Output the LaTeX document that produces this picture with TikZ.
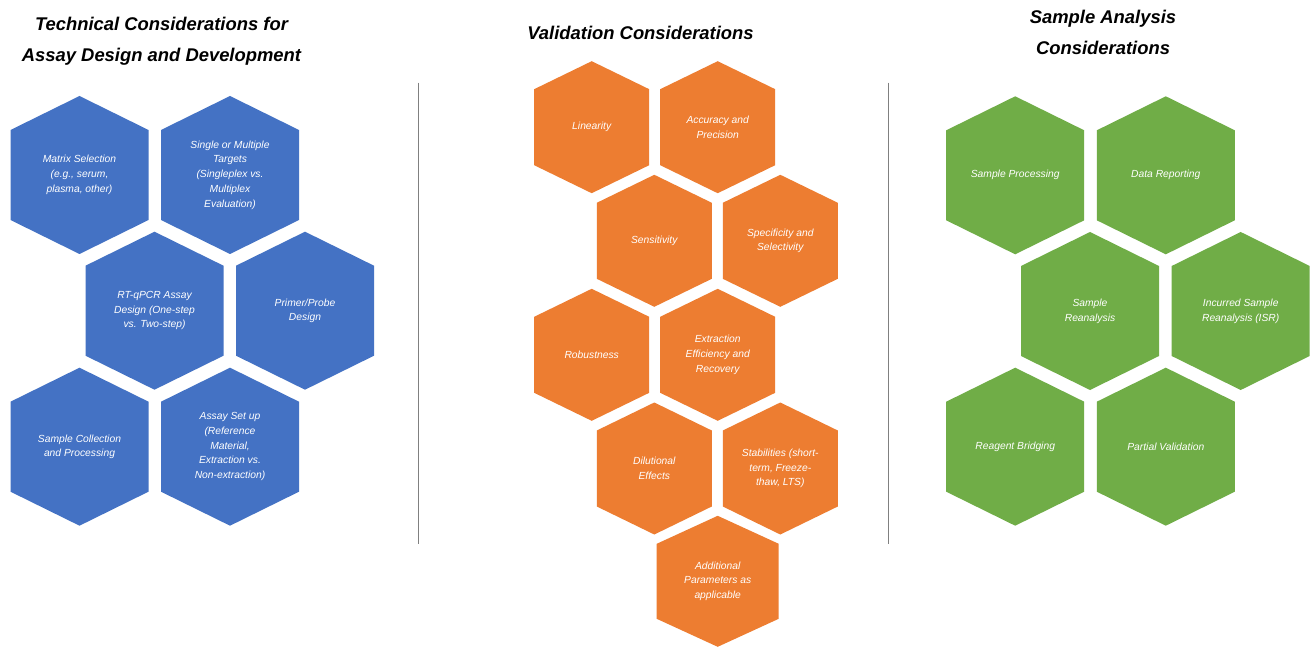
\documentclass[tikz,border=0pt]{standalone}
\usepackage{fontspec}
\setmainfont{Liberation Sans}
\definecolor{hexblue}{HTML}{4472C4}
\definecolor{hexorange}{HTML}{ED7D31}
\definecolor{hexgreen}{HTML}{70AD47}
\definecolor{rulegray}{HTML}{808080}

\tikzset{
  cell label/.style={text=white, align=center, inner sep=0pt,
    font=\itshape\fontsize{10.3}{14.7}\selectfont},
  heading/.style={text=black, align=center, inner sep=0pt, anchor=base,
    font=\bfseries\itshape\fontsize{18.4}{31}\selectfont},
  divider/.style={draw=rulegray, line width=1pt},
}

% hexagon with pointed top: name, cx, cy, width, height, shoulder drop, fill, text
\newcommand\hexcell[8]{%
  \fill[#7] (#2,#3-#5/2) -- (#2+#4/2,#3-#5/2+#6) -- (#2+#4/2,#3+#5/2-#6)
    -- (#2,#3+#5/2) -- (#2-#4/2,#3+#5/2-#6) -- (#2-#4/2,#3-#5/2+#6) -- cycle;
  \node[cell label] (#1) at (#2,#3) {#8};%
}
\newcommand\bluecell[4]{\hexcell{#1}{#2}{#3}{138}{158}{34}{hexblue}{#4}}
\newcommand\orangecell[4]{\hexcell{#1}{#2}{#3}{115}{132}{28}{hexorange}{#4}}
\newcommand\greencell[4]{\hexcell{#1}{#2}{#3}{138}{158}{34}{hexgreen}{#4}}

\begin{document}
\begin{tikzpicture}[x=1pt, y=-1pt]
  \useasboundingbox[fill=white] (0,0) rectangle (1312,647);

  % column headings (anchored at the baseline of the last line)
  \node[heading] (techtitle) at (161.5,61.5) {Technical Considerations for\\Assay Design and Development};
  \node[heading] (valtitle) at (640.5,39.5) {Validation Considerations};
  \node[heading] (sampletitle) at (1103,54.5) {Sample Analysis\\Considerations};

  % column dividers
  \coordinate (d1top) at (418.3,82.7);
  \coordinate (d1bot) at (418.3,543.7);
  \coordinate (d2top) at (888.3,82.7);
  \coordinate (d2bot) at (888.3,543.7);
  \draw[divider] (d1top) -- (d1bot);
  \draw[divider] (d2top) -- (d2bot);

  % technical considerations
  \bluecell{matrix}{79.5}{175}{Matrix Selection\\(e.g., serum,\\plasma, other)}
  \bluecell{targets}{230}{175}{Single or Multiple\\Targets\\(Singleplex vs.\\Multiplex\\Evaluation)}
  \bluecell{rtqpcr}{154.5}{310.7}{RT-qPCR Assay\\Design (One-step\\vs. Two-step)}
  \bluecell{primer}{305}{310.7}{Primer/Probe\\Design}
  \bluecell{collection}{79.5}{446.7}{Sample Collection\\and Processing}
  \bluecell{setup}{230}{446.7}{Assay Set up\\(Reference\\Material,\\Extraction vs.\\Non-extraction)}

  % validation considerations
  \orangecell{linearity}{591.7}{127.2}{Linearity}
  \orangecell{accuracy}{717.7}{127.2}{Accuracy and\\Precision}
  \orangecell{sensitivity}{654.3}{240.8}{Sensitivity}
  \orangecell{specificity}{780.3}{240.8}{Specificity and\\Selectivity}
  \orangecell{robustness}{591.7}{354.8}{Robustness}
  \orangecell{extraction}{717.7}{354.8}{Extraction\\Efficiency and\\Recovery}
  \orangecell{dilution}{654.3}{468.5}{Dilutional\\Effects}
  \orangecell{stability}{780.3}{468.5}{Stabilities (short-\\term, Freeze-\\thaw, LTS)}
  \hexcell{additional}{717.7}{581.3}{122}{131}{28}{hexorange}{Additional\\Parameters as\\applicable}

  % sample analysis considerations
  \greencell{processing}{1015.2}{175.3}{Sample Processing}
  \greencell{reporting}{1165.8}{175.3}{Data Reporting}
  \greencell{reanalysis}{1090}{311}{Sample\\Reanalysis}
  \greencell{isr}{1240.7}{311}{Incurred Sample\\Reanalysis (ISR)}
  \greencell{bridging}{1015.2}{446.7}{Reagent Bridging}
  \greencell{partial}{1165.8}{446.7}{Partial Validation}
\end{tikzpicture}
\end{document}
